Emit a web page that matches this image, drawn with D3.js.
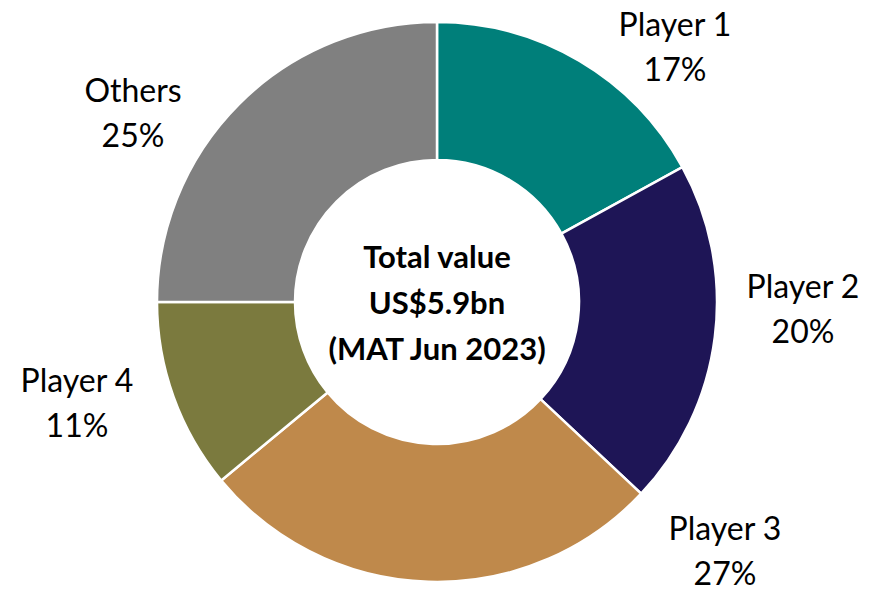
<!DOCTYPE html>
<html lang="en">
<head>
<meta charset="utf-8">
<title>Market share donut</title>
<script src="https://d3js.org/d3.v7.min.js"></script>
<style>
body { margin: 0; background: #fff; }
text { font-family: Lato, "Open Sans", sans-serif; fill: #000; }
</style>
</head>
<body>
<script>
// data
const players = ["Player 1", "Player 2", "Player 3", "Player 4", "Others"];
const shares = [17, 20, 27, 11, 25];
const centerLines = ["Total value", "US$5.9bn", "(MAT Jun 2023)"];

// look
const colors = ["#007f7a", "#1e1556", "#bf894b", "#7b7a3e", "#808080"];
const labelPos = [[675, 25], [803, 287], [725, 529], [77, 381], [133, 91]];

const width = 871, height = 594;
const cx = 437, cy = 302;
const outerR = 280, innerR = 142;

const svg = d3.select("body").append("svg")
  .attr("width", width)
  .attr("height", height);

const data = players.map((p, i) => ({ name: p, value: shares[i] }));

const pie = d3.pie().value(d => d.value).sort(null);
const arc = d3.arc().innerRadius(innerR).outerRadius(outerR);

const g = svg.append("g").attr("transform", `translate(${cx},${cy})`);

g.selectAll("path")
  .data(pie(data))
  .join("path")
  .attr("d", arc)
  .attr("fill", (d, i) => colors[i])
  .attr("stroke", "#fff")
  .attr("stroke-width", 2.5);

// slice labels
const labels = svg.selectAll("text.lbl")
  .data(data)
  .join("text")
  .attr("class", "lbl")
  .attr("text-anchor", "middle")
  .attr("font-size", 32);

labels.append("tspan")
  .attr("x", (d, i) => labelPos[i][0])
  .attr("y", (d, i) => labelPos[i][1])
  .attr("dy", "0.35em")
  .text(d => d.name);

labels.append("tspan")
  .attr("x", (d, i) => labelPos[i][0])
  .attr("y", (d, i) => labelPos[i][1] + 45)
  .attr("dy", "0.35em")
  .text(d => d.value + "%");

// centre text
g.selectAll("text.ctr")
  .data(centerLines)
  .join("text")
  .attr("class", "ctr")
  .attr("text-anchor", "middle")
  .attr("font-size", 31)
  .attr("font-weight", "bold")
  .attr("y", (d, i) => -45 + i * 46)
  .attr("dy", "0.35em")
  .text(d => d);
</script>
</body>
</html>
